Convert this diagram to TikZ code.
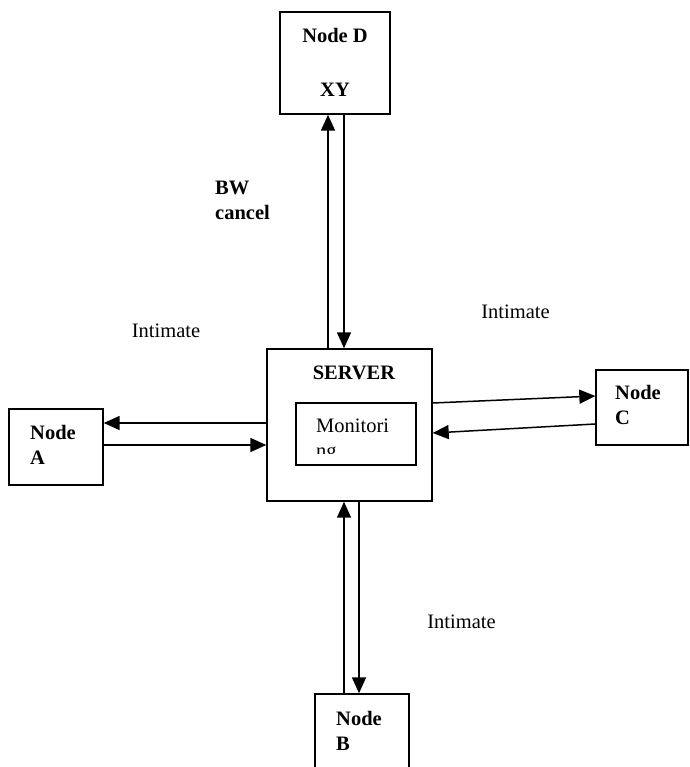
\documentclass[tikz,border=0pt]{standalone}
\usepackage{fontspec}
\setmainfont{Liberation Serif}
\usetikzlibrary{arrows.meta}

\begin{document}
\begin{tikzpicture}[x=1pt, y=-1pt,
    box/.style={draw, line width=1.4pt, inner sep=0pt},
    lbl/.style={font=\fontsize{20.5}{25}\selectfont, inner sep=0pt},
    boldlbl/.style={lbl, font=\fontsize{20.5}{25}\selectfont\bfseries},
    link/.style={line width=1.5pt, -{Triangle[length=16pt, width=14pt]}}]
      \clip (0,0) rectangle (689,767);
      \fill[white] (0,0) rectangle (689,767);

      \node[box, minimum width=110pt, minimum height=102pt] (nodeD) at (335,63) {};
      \node[box, minimum width=165pt, minimum height=152pt] (server) at (349.5,425) {};
      \node[box, minimum width=120pt, minimum height=62pt] (monitor) at (356,434) {};
      \node[box, minimum width=94pt, minimum height=76pt] (nodeA) at (56,447) {};
      \node[box, minimum width=92pt, minimum height=75pt] (nodeC) at (642,407.5) {};
      \node[box, minimum width=94pt, minimum height=100pt] (nodeB) at (362,744) {};

      \node[boldlbl, align=center] (nodeDtext) at (335,62) {Node D\\[29pt]XY};
      \node[boldlbl] (servertext) at (354,373) {SERVER};
      \begin{scope}
        \clip (296,403) rectangle (416,453);
        \node[lbl, align=left, anchor=west] (monitortext) at (316,440.5) {Monitori\\ng};
      \end{scope}
      \node[boldlbl, align=left, anchor=west] (nodeAtext) at (30,445) {Node\\A};
      \node[boldlbl, align=left, anchor=west] (nodeCtext) at (615,405) {Node\\C};
      \node[boldlbl, align=left, anchor=west] (nodeBtext) at (336,730.5) {Node\\B};
      \node[boldlbl, align=left, anchor=west] (bwtext) at (215,200.5) {BW\\cancel};
      \node[lbl] (intimateA) at (166,331) {Intimate};
      \node[lbl] (intimateC) at (515.5,312) {Intimate};
      \node[lbl] (intimateB) at (461.5,622) {Intimate};

      \draw[link] ([xshift=-21.5pt]server.north) -- ([xshift=-21.5pt]server.north |- nodeD.south);
      \draw[link] ([xshift=-5.5pt]server.north |- nodeD.south) -- ([xshift=-5.5pt]server.north);
      \draw[link] ([yshift=2pt]server.west) -- ([yshift=2pt]server.west -| nodeA.east);
      \draw[link] ([yshift=-20pt]server.west -| nodeA.east) -- ([yshift=-20pt]server.west);
      \draw[link] ([yshift=22pt]server.east) -- ([yshift=11.5pt]nodeC.west);
      \draw[link] ([yshift=-16.5pt]nodeC.west) -- ([yshift=-8pt]server.east);
      \draw[link] ([xshift=-5.5pt]server.south |- nodeB.north) -- ([xshift=-5.5pt]server.south);
      \draw[link] ([xshift=9.5pt]server.south) -- ([xshift=9.5pt]server.south |- nodeB.north);
    \end{tikzpicture}
\end{document}
